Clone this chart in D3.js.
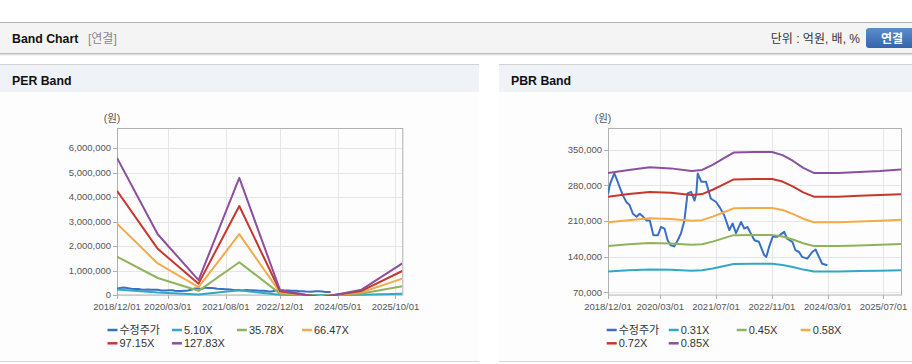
<!DOCTYPE html>
<html><head><meta charset="utf-8">
<script src="https://cdn.jsdelivr.net/npm/d3@7"></script>
<style>
body{margin:0;background:#fff;}
svg{display:block;font-family:"Liberation Sans",Arial,"Noto Sans CJK KR",sans-serif;}
</style></head><body>
<svg id="c" width="912" height="364"></svg>
<script>
// ---------- DATA ----------
const perDates = ["2018-12-01","2019-12-01","2020-12-01","2021-12-01","2022-12-01","2023-12-01","2024-12-01","2025-12-01"];
const per510  = [223400, 98900, 24300, 190700, 8000, -4400, 8800, 51500];
const per3578 = [1567400, 694200, 170700, 1338000, 56000, -30800, 61600, 361100];
const per6647 = [2911900, 1289600, 317200, 2485600, 104000, -57200, 114400, 670800];
const per9715 = [4256000, 1884800, 463600, 3632800, 152000, -83600, 167200, 980400];
const per12783= [5600000, 2480000, 610000, 4780000, 200000, -110000, 220000, 1290000];
const perLabels = ["수정주가","5.10X","35.78X","66.47X","97.15X","127.83X"];
const perXTicks = ["2018/12/01","2020/03/01","2021/08/01","2022/12/01","2024/05/01","2025/10/01"];
const perYTicks = [0,1000000,2000000,3000000,4000000,5000000,6000000];

const pbrDates = ["2018-12-01","2019-06-01","2019-12-01","2020-06-01","2020-12-01","2021-03-01","2021-06-01","2021-09-01","2021-12-01","2022-06-01","2022-11-01","2023-02-01","2023-05-01","2023-08-01","2023-11-01","2024-06-01","2024-12-01","2025-06-01","2025-12-01"];
const pbr031 = [110900,113100,114900,114200,112300,113100,116700,121100,125500,125800,125800,123600,119600,114500,110900,110900,111600,112300,113400];
const pbr045 = [160900,164100,166800,165700,163100,164100,169400,175800,182100,182600,182600,179500,173600,166200,160900,160900,162000,163100,164600];
const pbr058 = [207400,211500,215000,213600,210200,211500,218400,226500,234700,235400,235400,231300,223800,214300,207400,207400,208800,210200,212200];
const pbr072 = [257500,262600,266800,265100,260900,262600,271100,281200,291400,292200,292200,287100,277800,266000,257500,257500,259200,260900,262400];
const pbr085 = [304000,310000,315000,313000,308000,310000,320000,332000,344000,345000,345000,339000,328000,314000,304000,304000,306000,308000,311000];
const pbrLabels = ["수정주가","0.31X","0.45X","0.58X","0.72X","0.85X"];
const pbrXTicks = ["2018/12/01","2020/03/01","2021/07/01","2022/11/01","2024/03/01","2025/07/01"];
const pbrYTicks = [70000,140000,210000,280000,350000];

const priceDates = ["2018-12-01","2018-12-16","2019-01-01","2019-01-25","2019-02-15","2019-03-10","2019-04-10","2019-05-10","2019-06-07","2019-07-07","2019-08-07","2019-09-04","2019-10-04","2019-11-01","2019-12-01","2020-01-01","2020-02-10","2020-03-07","2020-04-07","2020-05-04","2020-06-01","2020-07-01","2020-08-01","2020-08-28","2020-09-28","2020-10-25","2020-11-25","2020-12-16","2020-12-25","2021-01-10","2021-01-22","2021-02-22","2021-04-04","2021-05-16","2021-07-01","2021-08-01","2021-09-10","2021-10-25","2021-11-22","2021-12-22","2022-02-04","2022-03-04","2022-04-01","2022-05-01","2022-06-01","2022-07-10","2022-08-25","2022-09-13","2022-10-07","2022-11-07","2022-12-19","2023-02-16","2023-03-13","2023-04-28","2023-05-25","2023-06-25","2023-07-22","2023-09-04","2023-10-19","2023-11-16","2023-12-16","2024-01-13","2024-02-28"];
const priceValues = [262000,280000,290000,303000,292000,278000,260000,247000,241000,224000,218000,224000,218000,211000,211000,182000,182000,198000,195000,172000,162000,160000,172000,185000,211000,264000,267000,255000,250000,264000,303000,287000,287000,254000,247000,237000,221000,192000,205000,186000,208000,195000,198000,185000,172000,169000,143000,139500,159000,179000,179000,188500,175000,169000,152500,149000,139500,136000,149000,154000,139500,126000,123000];

const colors = ["#3a70c4","#33a8c6","#8fb35a","#f2ab48","#c8372d","#8c4f9e"];

// ---------- DRAW ----------
const svg = d3.select("#c");
const parse = d3.timeParse("%Y-%m-%d");
const parseTick = d3.timeParse("%Y/%m/%d");

// top header bar
svg.append("rect").attr("x",0).attr("y",22).attr("width",912).attr("height",31).attr("fill","#f4f4f4");
svg.append("line").attr("x1",0).attr("x2",912).attr("y1",22.5).attr("y2",22.5).attr("stroke","#b4b4b4");
svg.append("line").attr("x1",0).attr("x2",912).attr("y1",53.5).attr("y2",53.5).attr("stroke","#bcbcbc");
svg.append("line").attr("x1",0).attr("x2",912).attr("y1",54.5).attr("y2",54.5).attr("stroke","#e2e2e2");
svg.append("line").attr("x1",0).attr("x2",912).attr("y1",55.5).attr("y2",55.5).attr("stroke","#f1f1f1");
svg.append("text").attr("x",12).attr("y",43).attr("font-size",12.3).attr("font-weight","bold").attr("fill","#111").text("Band Chart");
svg.append("text").attr("x",88).attr("y",43).attr("font-size",12).attr("fill","#888").text("[연결]");
svg.append("text").attr("x",860).attr("y",43).attr("text-anchor","end").attr("font-size",12).attr("fill","#333").text("단위 : 억원, 배, %");
const defs = svg.append("defs");
const g = defs.append("linearGradient").attr("id","btn").attr("x1",0).attr("x2",0).attr("y1",0).attr("y2",1);
g.append("stop").attr("offset","0%").attr("stop-color","#5b8ccc");
g.append("stop").attr("offset","100%").attr("stop-color","#3465aa");
svg.append("rect").attr("x",866).attr("y",28).attr("width",56).attr("height",20).attr("rx",3).attr("fill","url(#btn)");
svg.append("text").attr("x",892).attr("y",42.5).attr("text-anchor","middle").attr("font-size",12).attr("font-weight","bold").attr("fill","#fff").text("연결");

function panel(x0, w, title){
  svg.append("rect").attr("x",x0).attr("y",64).attr("width",w).attr("height",298).attr("fill","#fdfdfd");
  svg.append("rect").attr("x",x0).attr("y",64).attr("width",w).attr("height",28).attr("fill","#eff2f7");
  svg.append("line").attr("x1",x0).attr("x2",x0+w).attr("y1",64.5).attr("y2",64.5).attr("stroke","#d2d2d2");
  svg.append("line").attr("x1",x0).attr("x2",x0+w).attr("y1",361.5).attr("y2",361.5).attr("stroke","#d6d6d6");
  svg.append("text").attr("x",x0+12).attr("y",85).attr("font-size",12.3).attr("font-weight","bold").attr("fill","#111").text(title);
}
panel(0,479,"PER Band");
panel(499,413,"PBR Band");

function chart(cfg){
  const L=cfg.left, R=cfg.right, T=128.5, B=295;
  const x = d3.scaleTime().domain([parse("2018-12-01"), parse("2025-12-01")]).range([L,R]);
  const y = d3.scaleLinear().domain(cfg.yDomain).range([B,T]);
  const root = svg.append("g");
  // grid
  root.selectAll(null).data(cfg.yTicks).join("line")
    .attr("x1",L).attr("x2",R).attr("y1",d=>Math.round(y(d))+0.5).attr("y2",d=>Math.round(y(d))+0.5)
    .attr("stroke","#e6e6e6");
  const xt = cfg.xTicks.map(s=>({s, d:parseTick(s)}));
  root.selectAll(null).data(xt).join("line")
    .attr("x1",d=>Math.round(x(d.d))+0.5).attr("x2",d=>Math.round(x(d.d))+0.5).attr("y1",T).attr("y2",B)
    .attr("stroke","#e6e6e6");
  // frame
  root.append("rect").attr("x",L+0.5).attr("y",T).attr("width",R-L).attr("height",B-T).attr("fill","none").attr("stroke","#b0b0b0");
  // y ticks
  root.selectAll(null).data(cfg.yTicks).join("line")
    .attr("x1",L-4).attr("x2",L).attr("y1",d=>Math.round(y(d))+0.5).attr("y2",d=>Math.round(y(d))+0.5).attr("stroke","#b0b0b0");
  root.selectAll(null).data(cfg.yTicks).join("text")
    .attr("x",L-6).attr("y",d=>y(d)).attr("dy","0.35em").attr("text-anchor","end")
    .attr("font-size",9.5).attr("fill","#555").text(d=>d3.format(",")(d));
  // x ticks
  root.selectAll(null).data(xt).join("line")
    .attr("x1",d=>Math.round(x(d.d))+0.5).attr("x2",d=>Math.round(x(d.d))+0.5).attr("y1",B).attr("y2",B+4).attr("stroke","#b0b0b0");
  root.selectAll(null).data(xt).join("text")
    .attr("x",d=>x(d.d)).attr("y",310).attr("text-anchor","middle")
    .attr("font-size",9.5).attr("fill","#555").text(d=>d.s);
  // unit
  root.append("text").attr("x",cfg.unitX).attr("y",122).attr("text-anchor","middle").attr("font-size",10.5).attr("fill","#555").text("(원)");
  // clip
  const cid = "clip"+cfg.id;
  defs.append("clipPath").attr("id",cid).append("rect").attr("x",L).attr("y",T).attr("width",R-L).attr("height",B-T+1);
  const lines = root.append("g").attr("clip-path",`url(#${cid})`);
  const line = d3.line().x(d=>x(d.d)).y(d=>y(d.v));
  cfg.series.forEach((s,i)=>{
    const pts = s.dates.map((dd,k)=>({d:parse(dd), v:s.values[k]}));
    lines.append("path").attr("d",line(pts)).attr("fill","none").attr("stroke",colors[i])
      .attr("stroke-width",2).attr("stroke-linejoin","round");
  });
  // legend
  cfg.labels.forEach((lab,i)=>{
    const row = Math.floor(i/4), col = i%4;
    const lx = cfg.legX + cfg.legCols[col], ly = 330 + row*13.3;
    root.append("line").attr("x1",lx).attr("x2",lx+10).attr("y1",ly).attr("y2",ly)
      .attr("stroke",colors[i]).attr("stroke-width",2.5);
    root.append("text").attr("x",lx+12).attr("y",ly).attr("dy","0.36em").attr("font-size",11).attr("fill","#333").text(lab);
  });
}

chart({id:"per", left:117, right:402.3, yDomain:[0,6800000], yTicks:perYTicks, xTicks:perXTicks, unitX:112,
  series:[{dates:priceDates, values:priceValues},{dates:perDates, values:per510},{dates:perDates, values:per3578},
          {dates:perDates, values:per6647},{dates:perDates, values:per9715},{dates:perDates, values:per12783}],
  labels:perLabels, legX:107.5, legCols:[0,64.4,129.4,194.4]});

chart({id:"pbr", left:608, right:901, yDomain:[64700,391200], yTicks:pbrYTicks, xTicks:pbrXTicks, unitX:603,
  series:[{dates:priceDates, values:priceValues},{dates:pbrDates, values:pbr031},{dates:pbrDates, values:pbr045},
          {dates:pbrDates, values:pbr058},{dates:pbrDates, values:pbr072},{dates:pbrDates, values:pbr085}],
  labels:pbrLabels, legX:606.7, legCols:[0,62,130,194]});
</script>
</body></html>
